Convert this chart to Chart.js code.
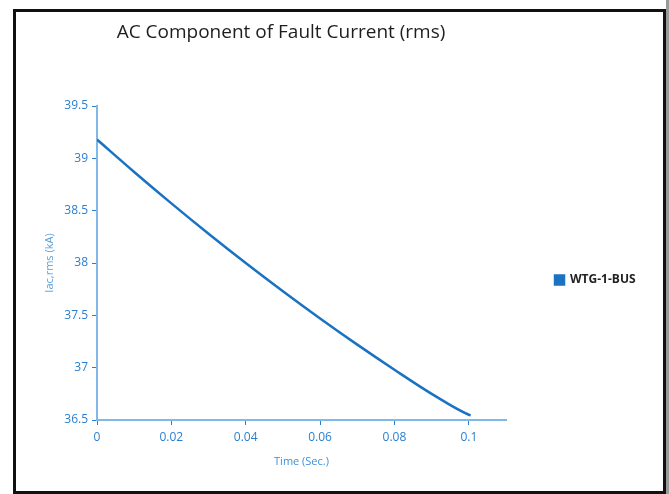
<!DOCTYPE html>
<html>
<head>
<meta charset="utf-8">
<script src="https://cdn.jsdelivr.net/npm/chart.js@4"></script>
<style>
    html, body {margin: 0; padding: 0; background: #fff; width: 669px; height: 494px; overflow: hidden;}
    #frame {position: absolute; left: 13px; top: 9px; width: 647px; height: 479px; border: 3px solid #111; border-bottom: 3px solid #111;}
    #edge {position: absolute; left: 666px; top: 0; width: 3px; height: 494px; background: #9a9a9a;}
    canvas {display: block;}
</style>
</head>
<body>
<div id="frame"><canvas id="fault-current-chart" width="647" height="479"></canvas></div>
<div id="edge"></div>
<script>
    const chartTitle = 'AC Component of Fault Current (rms)';
    const seriesName = 'WTG-1-BUS';
    const timeSec = [0, 0.01, 0.02, 0.03, 0.04, 0.05, 0.06, 0.07, 0.08, 0.09, 0.1, 0.1005];
    const iacKA = [39.18, 38.87, 38.57, 38.28, 38.0, 37.73, 37.47, 37.22, 36.98, 36.75, 36.55, 36.545];
    const xTicks = [0, 0.02, 0.04, 0.06, 0.08, 0.1];
    const yTicks = [36.5, 37, 37.5, 38, 38.5, 39, 39.5];

    const blue = '#1a72c2';
    const tickBlue = '#2a7fcf';
    const axisBlue = '#80b9e8';

    // title is drawn by hand so it can sit off-centre like the original
    const titlePlugin = {
        id: 'offsetTitle',
        afterDraw(chart) {
            const ctx = chart.ctx;
            ctx.save();
            ctx.font = '19px "Open Sans", "Noto Sans", sans-serif';
            ctx.fillStyle = '#1e1e1e';
            ctx.textAlign = 'center';
            ctx.textBaseline = 'alphabetic';
            ctx.fillText(chartTitle, 265, 26);
            ctx.restore();
        }
    };

    const legendPlacer = {
        id: 'legendPlacer',
        afterInit(chart) {
            const lg = chart.legend;
            const fit = lg.fit.bind(lg);
            lg.fit = () => { fit(); lg.width = 157; };
        },
        afterLayout(chart) {
            const lg = chart.legend;
            lg.left = 529;
            lg.right = 647;
            lg.top = 252;
            lg.bottom = 300;
        }
    };

    const data = {
        datasets: [{
            label: seriesName,
            data: timeSec.map((t, i) => ({x: t, y: iacKA[i]})),
            borderColor: blue,
            backgroundColor: blue,
            borderWidth: 2.5,
            pointRadius: 0,
            fill: false,
            cubicInterpolationMode: 'monotone'
        }]
    };

    const config = {
        type: 'line',
        data: data,
        plugins: [titlePlugin, legendPlacer],
        options: {
            responsive: false,
            animation: false,
            layout: {padding: {top: 94, left: 0, right: 0, bottom: 19}},
            plugins: {
                title: {display: false},
                tooltip: {enabled: false},
                legend: {
                    display: true,
                    position: 'right',
                    align: 'start',
                    labels: {
                        boxWidth: 9,
                        boxHeight: 9,
                        padding: 10,
                        color: '#222',
                        font: {family: '"Open Sans", "Noto Sans", sans-serif', size: 12, weight: 'bold'}
                    }
                }
            },
            scales: {
                x: {
                    type: 'linear',
                    min: 0,
                    max: 0.11,
                    afterBuildTicks: s => { s.ticks = xTicks.map(v => ({value: v})); },
                    afterFit: s => { s.height = 52; },
                    grid: {display: true, drawOnChartArea: false, drawTicks: true, tickLength: 5, color: tickBlue, lineWidth: 1},
                    border: {display: true, color: axisBlue, width: 2},
                    ticks: {
                        color: tickBlue,
                        padding: 5,
                        maxRotation: 0,
                        font: {family: '"Open Sans", "Noto Sans", sans-serif', size: 12},
                        callback: v => String(Math.round(v * 1000) / 1000)
                    },
                    title: {
                        display: true,
                        text: 'Time (Sec.)',
                        color: '#3d8fd8',
                        padding: {top: 4, bottom: 4},
                        font: {family: '"Open Sans", "Noto Sans", sans-serif', size: 11}
                    }
                },
                y: {
                    min: 36.5,
                    max: 39.5,
                    afterBuildTicks: s => { s.ticks = yTicks.map(v => ({value: v})); },
                    afterFit: s => { s.width = 81; },
                    grid: {display: true, drawOnChartArea: false, drawTicks: true, tickLength: 5, color: tickBlue, lineWidth: 1},
                    border: {display: true, color: axisBlue, width: 2},
                    ticks: {
                        color: tickBlue,
                        padding: 4,
                        font: {family: '"Open Sans", "Noto Sans", sans-serif', size: 12},
                        callback: v => String(Math.round(v * 100) / 100)
                    },
                    title: {
                        display: true,
                        text: 'Iac,rms (kA)',
                        color: '#5a9fdc',
                        padding: {top: 27, bottom: 27},
                        font: {family: '"Open Sans", "Noto Sans", sans-serif', size: 11}
                    }
                }
            }
        }
    };

    const ctx = document.getElementById('fault-current-chart').getContext('2d');
    window.faultCurrentChart = new Chart(ctx, config);
</script>
</body>
</html>
